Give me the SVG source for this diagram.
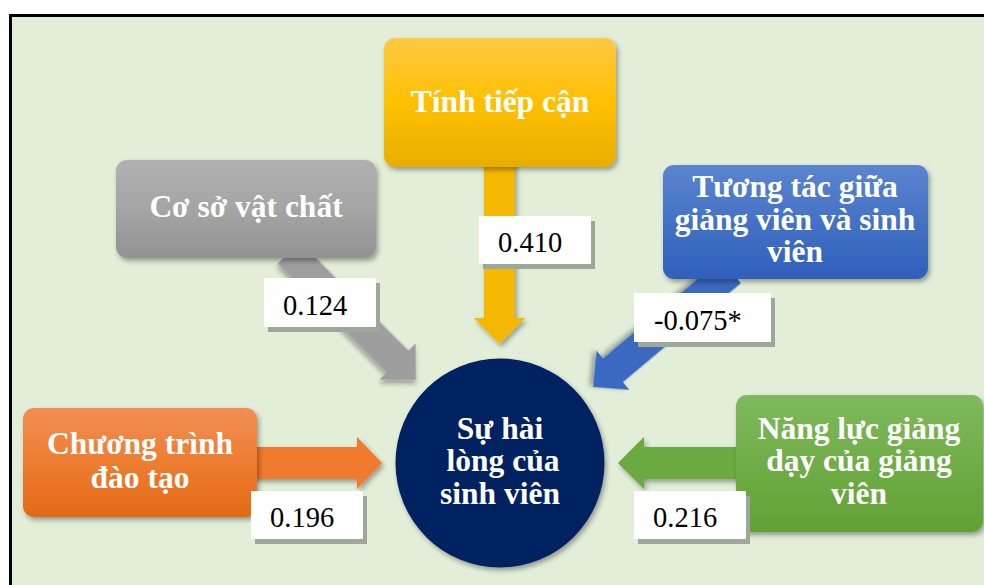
<svg xmlns="http://www.w3.org/2000/svg" width="984" height="585" viewBox="0 0 984 585">
<defs>
<filter id="sh" x="-20%" y="-20%" width="140%" height="150%">
<feDropShadow dx="2" dy="3" stdDeviation="2.5" flood-color="#000" flood-opacity="0.35"/>
</filter>
<linearGradient id="gY" x1="0" y1="0" x2="0" y2="1"><stop offset="0" stop-color="#FFC844"/><stop offset="0.5" stop-color="#FFC000"/><stop offset="1" stop-color="#E6AE00"/></linearGradient>
<linearGradient id="gG" x1="0" y1="0" x2="0" y2="1"><stop offset="0" stop-color="#B0B0B0"/><stop offset="0.5" stop-color="#A5A5A5"/><stop offset="1" stop-color="#929292"/></linearGradient>
<linearGradient id="gB" x1="0" y1="0" x2="0" y2="1"><stop offset="0" stop-color="#5B84CF"/><stop offset="0.5" stop-color="#4472C4"/><stop offset="1" stop-color="#2F5FBB"/></linearGradient>
<linearGradient id="gGr" x1="0" y1="0" x2="0" y2="1"><stop offset="0" stop-color="#7EB95C"/><stop offset="0.5" stop-color="#70AD47"/><stop offset="1" stop-color="#61A136"/></linearGradient>
<linearGradient id="gO" x1="0" y1="0" x2="0" y2="1"><stop offset="0" stop-color="#F28E54"/><stop offset="0.5" stop-color="#ED7D31"/><stop offset="1" stop-color="#E46915"/></linearGradient>
</defs>
<style>
.t{font-family:'Liberation Serif','Times New Roman',serif;font-weight:700;font-size:31.5px;fill:#fff;text-anchor:middle}
.n{font-family:'Liberation Serif','Times New Roman',serif;font-size:28.5px;fill:#000}
.lb{fill:#fff}
.ls{fill:#9EA89A}
</style>
<rect x="10.5" y="15.5" width="990" height="600" fill="#E2EED8" stroke="#000" stroke-width="3"/>
<g id="connectors">
<polygon filter="url(#sh)" fill="#F5B800" points="484,150 515,150 515,318 525,318 499.5,344 474,318 484,318"/>
<g transform="translate(288.7,252.7) rotate(45)"><polygon filter="url(#sh)" fill="#9E9E9E" points="0,-15.5 154,-15.5 154,-25.5 180,0 154,25.5 154,15.5 0,15.5"/></g>
<g transform="translate(730.9,271.3) rotate(140)"><polygon filter="url(#sh)" fill="#3A68C0" points="0,-15.5 154,-15.5 154,-25.5 180,0 154,25.5 154,15.5 0,15.5"/></g>
<polygon filter="url(#sh)" fill="#F07A2E" points="250,447 357,447 357,437 382,463 357,489 357,479 250,479"/>
<polygon filter="url(#sh)" fill="#6AAA40" points="745,447 644,447 644,437 618,463 644,489 644,479 745,479"/>
</g>
<g id="n-tiepcan">
<rect x="384" y="38" width="232" height="129" rx="11" fill="url(#gY)" filter="url(#sh)"/>
<text class="t" x="500" y="112">Tính tiếp cận</text>
</g>
<g id="n-cosovatchat">
<rect x="116" y="160" width="260" height="98" rx="11" fill="url(#gG)" filter="url(#sh)"/>
<text class="t" x="246" y="217">Cơ sở vật chất</text>
</g>
<g id="n-tuongtac">
<rect x="663" y="165" width="265" height="114" rx="11" fill="url(#gB)" filter="url(#sh)"/>
<text class="t" x="795" y="197">Tương tác giữa</text>
<text class="t" x="795" y="230">giảng viên và sinh</text>
<text class="t" x="795" y="262">viên</text>
</g>
<g id="n-chuongtrinh">
<rect x="23" y="408" width="234" height="109" rx="11" fill="url(#gO)" filter="url(#sh)"/>
<text class="t" x="140" y="454">Chương trình</text>
<text class="t" x="140" y="488">đào tạo</text>
</g>
<g id="n-nangluc">
<rect x="736" y="395" width="247" height="137" rx="11" fill="url(#gGr)" filter="url(#sh)"/>
<text class="t" x="859" y="439">Năng lực giảng</text>
<text class="t" x="859" y="471">dạy của giảng</text>
<text class="t" x="859" y="504">viên</text>
</g>
<g id="n-hailong">
<circle cx="500" cy="463" r="104.5" fill="#002060" filter="url(#sh)"/>
<text class="t" x="500" y="439">Sự hài</text>
<text class="t" x="503" y="471">lòng của</text>
<text class="t" x="500" y="504">sinh viên</text>
</g>
<g id="labels">
<rect class="ls" x="483" y="221" width="112" height="48"/><rect class="lb" x="479" y="216" width="112" height="48"/>
<text class="n" x="498" y="252">0.410</text>
<rect class="ls" x="268" y="283" width="112" height="49"/><rect class="lb" x="264" y="278" width="112" height="49"/>
<text class="n" x="283" y="315">0.124</text>
<rect class="ls" x="638" y="298" width="137" height="49"/><rect class="lb" x="634" y="293" width="137" height="49"/>
<text class="n" x="654" y="330">-0.075*</text>
<rect class="ls" x="255" y="496" width="112" height="48"/><rect class="lb" x="251" y="491" width="112" height="48"/>
<text class="n" x="270" y="527">0.196</text>
<rect class="ls" x="638" y="496" width="112" height="48"/><rect class="lb" x="634" y="491" width="112" height="48"/>
<text class="n" x="653" y="527">0.216</text>
</g>
</svg>
